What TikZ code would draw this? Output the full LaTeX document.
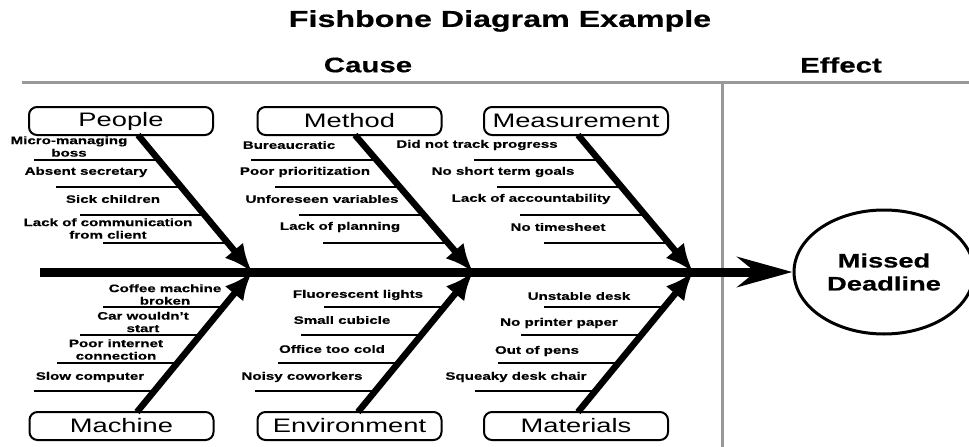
\documentclass[tikz,border=0pt]{standalone}
\usepackage{fontspec}
\setmainfont{Liberation Sans}[FakeStretch=1.4,BoldFeatures={FakeBold=0.6}]
\usetikzlibrary{arrows.meta,shapes.geometric,calc}
\begin{document}
\begin{tikzpicture}[x=1pt,y=-1pt,
  titletext/.style={font=\fontsize{23}{26}\selectfont\bfseries},
  headtext/.style={font=\fontsize{21}{24}\selectfont\bfseries},
  frame/.style={draw=black!40,line width=3pt},
  catbox/.style={draw,rounded corners=8pt,line width=2pt,minimum width=184pt,minimum height=28pt,inner sep=0pt,font=\fontsize{19.5}{22}\selectfont},
  causetext/.style={font=\fontsize{10.8}{12.5}\selectfont\bfseries,align=center,inner sep=0pt},
  subline/.style={line width=2.8pt},
  bone/.style={line width=6.5pt,-{Latex[length=28pt,width=24pt]}},
  spine/.style={line width=9pt,-{Stealth[length=55pt,width=30pt,inset=18pt]}},
  effectnode/.style={ellipse,draw,line width=3pt,minimum width=180pt,minimum height=124pt,inner sep=0pt,align=center,font=\fontsize{19.5}{23}\selectfont\bfseries}
]
\useasboundingbox (0,0) rectangle (969,447);

% frame lines
\coordinate (gl) at (22,82);
\coordinate (gr) at (969,82);
\coordinate (vt) at (722,82);
\coordinate (vb) at (722,447);
\draw[frame] (gl) -- (gr);
\draw[frame] (vt) -- (vb);

% headings
\node[titletext] (title) at (500,21) {Fishbone Diagram Example};
\node[headtext] (cause) at (368,65) {Cause};
\node[headtext] (effect) at (841,65) {Effect};

% category boxes
\node[catbox] (people) at (121,121) {People};
\node[catbox] (method) at (349.5,121) {Method};
\node[catbox] (meas) at (576,121) {Measurement};
\node[catbox] (machine) at (121.5,426) {Machine};
\node[catbox] (env) at (349.5,426) {Environment};
\node[catbox] (mat) at (576,426) {Materials};

% effect
\node[effectnode] (dl) at (884,272) {Missed\\Deadline};

% bone end points
\coordinate (peopleS) at (138,135);  \coordinate (peopleT) at (252,272);
\coordinate (methodS) at (355,135);  \coordinate (methodT) at (473,272);
\coordinate (measS) at (578,135);    \coordinate (measT) at (693,272);
\coordinate (machineS) at (137,412); \coordinate (machineT) at (252,272);
\coordinate (envS) at (358,412);     \coordinate (envT) at (473,272);
\coordinate (matS) at (578,412);     \coordinate (matT) at (693,272);

% sub-cause lines
\foreach \c in {people,method,meas}{
  \foreach \f/\k in {0.182/1,0.380/2,0.584/3,0.788/4}{
    \coordinate (\c-\k) at ($(\c S)!\f!(\c T)$);
    \draw[subline] (\c-\k) -- ++(-125,0);
  }
}
\foreach \c in {machine,env,mat}{
  \foreach \f/\k in {0.75/1,0.55/2,0.35/3,0.15/4}{
    \coordinate (\c-\k) at ($(\c S)!\f!(\c T)$);
    \draw[subline] (\c-\k) -- ++(-120,0);
  }
}

% spine
\coordinate (s0) at (40,272);
\draw[spine] (s0) -- (dl.west);

% bones
\foreach \c in {people,method,meas,machine,env,mat}{
  \draw[bone] (\c S) -- (\c T);
}

% cause texts: people
\node[causetext] (p1) at (69,146.5) {Micro-managing\\boss};
\node[causetext] (p2) at (86,172) {Absent secretary};
\node[causetext] (p3) at (113,199) {Sick children};
\node[causetext] (p4) at (108,228.5) {Lack of communication\\from client};
% method
\node[causetext] (m1) at (289,145) {Bureaucratic};
\node[causetext] (m2) at (305,172) {Poor prioritization};
\node[causetext] (m3) at (322,199) {Unforeseen variables};
\node[causetext] (m4) at (340,227) {Lack of planning};
% measurement
\node[causetext] (q1) at (477,145) {Did not track progress};
\node[causetext] (q2) at (503,172) {No short term goals};
\node[causetext] (q3) at (531,199) {Lack of accountability};
\node[causetext] (q4) at (558,227) {No timesheet};
% machine
\node[causetext] (c1) at (165,294.5) {Coffee machine\\broken};
\node[causetext] (c2) at (143,322) {Car wouldn't\\start};
\node[causetext] (c3) at (116,349.5) {Poor internet\\connection};
\node[causetext] (c4) at (90,377) {Slow computer};
% environment
\node[causetext] (e1) at (358,295) {Fluorescent lights};
\node[causetext] (e2) at (342,320) {Small cubicle};
\node[causetext] (e3) at (332,349) {Office too cold};
\node[causetext] (e4) at (302,377) {Noisy coworkers};
% materials
\node[causetext] (r1) at (579,296) {Unstable desk};
\node[causetext] (r2) at (559,323) {No printer paper};
\node[causetext] (r3) at (537,351) {Out of pens};
\node[causetext] (r4) at (516,377) {Squeaky desk chair};
\end{tikzpicture}
\end{document}
